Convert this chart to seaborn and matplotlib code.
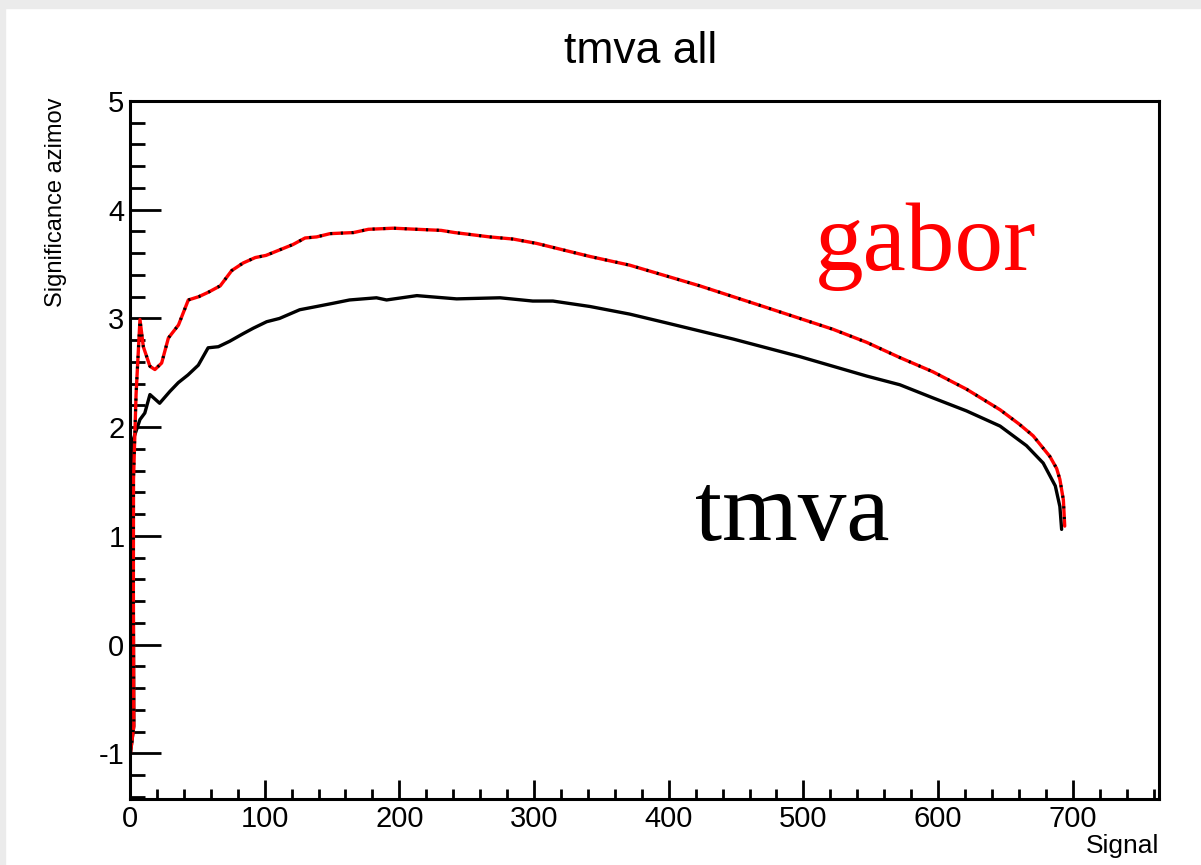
import matplotlib
matplotlib.use("Agg")
import matplotlib.pyplot as plt
import seaborn as sns
from matplotlib.patches import Rectangle
from matplotlib.ticker import MultipleLocator

# gabor curve (red with black dots)
gabor_x = [0.3, 2.8, 2.5, 2.6, 4.5, 7.4, 9.9, 14.8, 18.5, 23.5, 28.5, 36, 43.3, 51, 58,
           67, 75.5, 84, 93, 101, 111, 121, 130, 138.6, 148.5, 166, 177, 195.5, 213,
           231, 241, 267, 284.6, 302, 321.7, 341.5, 371, 423, 472.7, 522, 547, 571.6,
           596, 621, 646, 660, 670.6, 683, 688, 690.4, 693, 694]
gabor_y = [-1.0, -0.75, 0.5, 1.52, 2.3, 2.99, 2.74, 2.56, 2.53, 2.59, 2.82, 2.94, 3.17,
           3.2, 3.24, 3.30, 3.44, 3.51, 3.56, 3.58, 3.63, 3.68, 3.74, 3.75, 3.78, 3.79,
           3.82, 3.83, 3.82, 3.81, 3.79, 3.75, 3.73, 3.69, 3.63, 3.57, 3.49, 3.30, 3.10,
           2.90, 2.78, 2.64, 2.51, 2.35, 2.16, 2.03, 1.92, 1.73, 1.62, 1.52, 1.33, 1.09]

# tmva curve (black)
tmva_x = [0.3, 2.8, 2.4, 2.5, 7.4, 11, 14.8, 22, 29.7, 35.9, 43, 50.7, 58, 65.6, 74, 84,
          91.5, 101.5, 111, 126, 138.6, 151, 163, 183, 190.5, 213, 222.7, 242.5, 274.7,
          299, 314, 341.5, 371, 398, 448, 497, 547, 571.6, 596, 621, 646, 665.6, 678,
          687, 690.4, 691.7]
tmva_y = [-1.0, -0.75, 0.5, 1.89, 2.07, 2.13, 2.30, 2.22, 2.33, 2.41, 2.48, 2.57, 2.73,
          2.74, 2.79, 2.86, 2.91, 2.97, 3.0, 3.08, 3.11, 3.14, 3.17, 3.19, 3.17, 3.21,
          3.20, 3.18, 3.19, 3.16, 3.16, 3.11, 3.04, 2.96, 2.81, 2.65, 2.47, 2.39, 2.27,
          2.15, 2.01, 1.83, 1.67, 1.46, 1.27, 1.06]

sns.set_theme(style="white")
plt.rcParams['font.family'] = ['Liberation Sans', 'DejaVu Sans']
plt.rcParams['axes.unicode_minus'] = False

fig = plt.figure(figsize=(12.01, 8.65), dpi=100)
fig.patches.append(Rectangle((0, 1 - 8 / 865), 1, 8 / 865, transform=fig.transFigure,
                             color='#ebebeb', zorder=0))
fig.patches.append(Rectangle((0, 0), 5 / 1201, 1, transform=fig.transFigure,
                             color='#ebebeb', zorder=0))
ax = fig.add_axes([130 / 1201, 66 / 865, 1029 / 1201, 698 / 865])

sns.lineplot(x=tmva_x, y=tmva_y, sort=False, estimator=None, color='black',
             linewidth=2.4, ax=ax)
sns.lineplot(x=gabor_x, y=gabor_y, sort=False, estimator=None, color='red',
             linewidth=2.4, ax=ax)
ax.plot(gabor_x, gabor_y, color='black', linewidth=2.2, linestyle=(0, (0.7, 2.8)))

ax.set_xlim(0, 764)
ax.set_ylim(-1.42, 5.0)
ax.xaxis.set_major_locator(MultipleLocator(100))
ax.xaxis.set_minor_locator(MultipleLocator(20))
ax.yaxis.set_major_locator(MultipleLocator(1))
ax.yaxis.set_minor_locator(MultipleLocator(0.2))
ax.tick_params(axis='both', which='both', direction='in', color='black', width=2,
               labelsize=21, labelcolor='black')
ax.tick_params(axis='y', which='major', length=22, pad=4)
ax.tick_params(axis='y', which='minor', length=11)
ax.tick_params(axis='x', which='major', length=14, pad=4)
ax.tick_params(axis='x', which='minor', length=7)
ax.tick_params(left=True, bottom=True, top=False, right=False, which='both')
for s in ax.spines.values():
    s.set_color('black')
    s.set_linewidth(2.2)

ax.set_ylabel("Significance azimov", fontsize=17, loc='top', color='black')
ax.yaxis.set_label_coords(-0.061, 1.005)
ax.set_xlabel("Signal", fontsize=19, loc='right', color='black')
ax.xaxis.set_label_coords(1.0, -0.05)

fig.text(0.533, (865 - 63) / 865, "tmva all", ha='center', va='baseline', fontsize=32,
         color='black')

ax.text(508.5, 3.45, "gabor", color='red', fontsize=70, family=['Liberation Serif'],
        va='baseline', ha='left')
ax.text(419.5, 0.966, "tmva", color='black', fontsize=70, family=['Liberation Serif'],
        va='baseline', ha='left')

fig.savefig("out.png", dpi=100)
plt.close(fig)
